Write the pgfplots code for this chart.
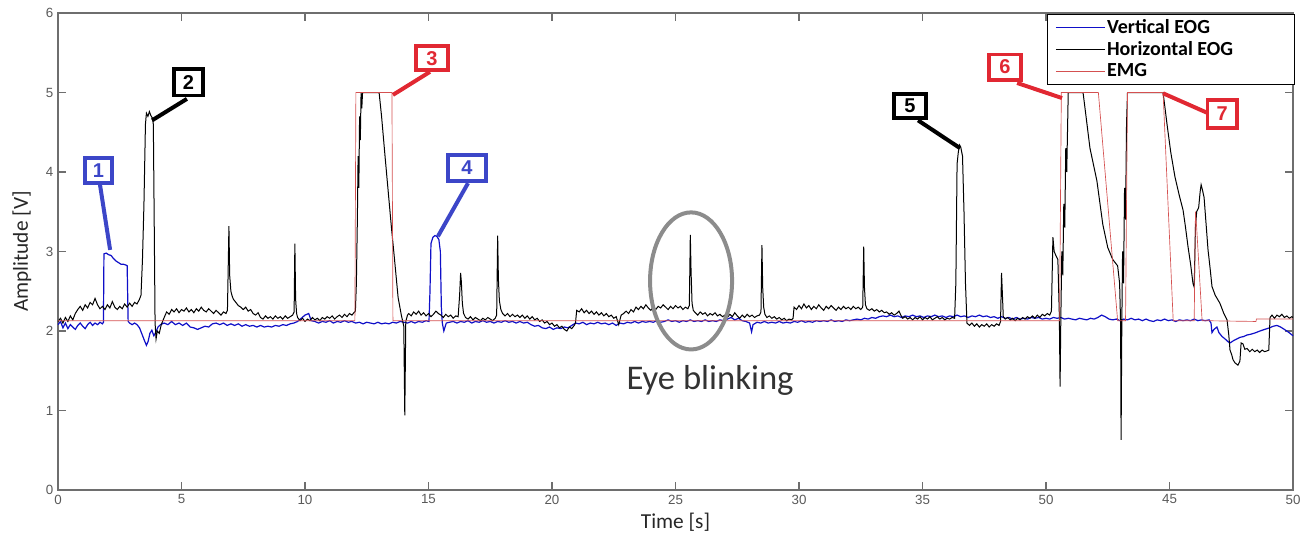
\documentclass[border=0pt]{standalone}
\usepackage{fontspec}
\setmainfont{Carlito}
\newfontfamily\ticksfont{Liberation Sans}
\usepackage{pgfplots}
\pgfplotsset{compat=1.18}
\definecolor{veog}{RGB}{15,15,200}
\definecolor{emg}{RGB}{212,80,80}
\definecolor{annblue}{RGB}{60,70,200}
\definecolor{annred}{RGB}{225,40,50}
\definecolor{axgray}{RGB}{110,110,110}
\definecolor{ellgray}{RGB}{140,140,140}

\begin{document}
\begin{tikzpicture}
\useasboundingbox (-43.5pt,-34.5pt) rectangle (939.75pt,367.5pt);
\begin{axis}[
 width=926.25pt, height=357.75pt, scale only axis,
 at={(0,0)}, anchor=south west,
 xmin=0, xmax=50, ymin=0, ymax=6,
 xtick={0,5,...,50},
 xticklabels={0,5,10,15,20,25,30,35,50,45,50},
 ytick={0,1,2,3,4,5,6},
 yticklabels={0,1,2,3,4,5,6},
 tick align=inside,
 major tick length=6pt,
 axis line style={axgray, line width=0.8pt},
 tick style={axgray, line width=0.8pt},
 tick label style={font=\ticksfont\fontsize{10}{12}\selectfont, text=black!65},
 xlabel={Time [s]}, ylabel={Amplitude [V]},
 label style={font=\fontsize{16}{19}\selectfont, text=black!85},
 xlabel style={at={(axis description cs:0.5,-0.067)}, anchor=center},
 ylabel style={at={(axis description cs:-0.0292,0.5)}, anchor=center},
 legend style={at={(axis description cs:1.0015,0.998)}, anchor=north east,
   draw=black, line width=0.6pt, fill=white,
   font=\bfseries\fontsize{15}{17}\selectfont,
   inner xsep=6pt, inner ysep=3pt, row sep=2.5pt,
   nodes={inner xsep=1pt, inner ysep=1pt}},
 legend cell align=left,
 legend image code/.code={\draw[#1] (0pt,0pt) -- (37pt,0pt);},
 clip=false,
]

% Vertical EOG
\addplot[veog, line width=0.9pt] coordinates {
(0,2.08)(0.1,2.12)(0.2,2.04)(0.3,2.1)(0.4,2.03)(0.5,2.08)(0.6,2.05)(0.7,2.02)(0.8,2.07)(0.9,2.1)(1.0,2.06)(1.1,2.03)(1.2,2.08)(1.3,2.11)(1.4,2.07)(1.5,2.1)(1.6,2.08)(1.7,2.11)(1.8,2.09)(1.84,2.11)
(1.86,2.97)(1.95,2.98)(2.05,2.96)(2.15,2.95)(2.25,2.91)(2.35,2.88)(2.45,2.86)(2.55,2.84)(2.65,2.84)(2.75,2.83)(2.8,2.82)(2.84,2.12)(2.9,2.1)(3.0,2.08)(3.1,2.1)(3.2,2.08)(3.3,2.04)(3.4,1.96)(3.5,1.88)(3.58,1.82)(3.65,1.87)(3.72,1.97)(3.8,2.01)(3.88,1.94)(3.95,1.98)(4.05,2.05)(4.15,2.08)(4.3,2.1)(4.45,2.08)(4.6,2.12)(4.75,2.08)(4.9,2.1)(5.05,2.07)(5.2,2.1)(5.35,2.05)(5.5,2.04)(5.65,2.02)(5.8,2.04)(5.95,2.06)(6.1,2.05)(6.25,2.09)(6.4,2.1)(6.55,2.08)(6.7,2.1)(6.85,2.07)(7.0,2.09)(7.15,2.07)(7.3,2.09)(7.45,2.06)(7.6,2.08)(7.75,2.06)(7.9,2.07)(8.05,2.05)(8.2,2.07)(8.35,2.05)(8.5,2.06)(8.65,2.05)(8.8,2.07)(8.95,2.06)(9.1,2.08)(9.25,2.07)(9.4,2.09)(9.55,2.1)(9.7,2.12)(9.85,2.16)(10.0,2.2)(10.15,2.22)(10.25,2.13)(10.4,2.12)(10.55,2.1)(10.7,2.12)(10.85,2.11)(11.0,2.13)(11.15,2.1)(11.3,2.12)(11.45,2.11)(11.6,2.13)(11.75,2.11)(11.9,2.12)(12.05,2.1)(12.2,2.11)(12.35,2.09)(12.5,2.11)(12.65,2.1)(12.8,2.09)(12.95,2.11)(13.1,2.09)(13.25,2.1)(13.4,2.09)(13.55,2.11)(13.7,2.1)(13.85,2.12)(14.0,2.11)(14.15,2.1)(14.3,2.12)(14.45,2.1)(14.6,2.12)(14.75,2.11)(14.9,2.13)(15.02,2.12)
(15.06,2.5)(15.1,3.1)(15.18,3.18)(15.26,3.2)(15.34,3.19)(15.42,3.15)(15.48,3.0)(15.52,2.3)(15.56,2.1)(15.62,2.0)(15.66,2.04)(15.72,2.1)(15.85,2.11)(16.0,2.12)(16.15,2.1)(16.3,2.12)(16.45,2.11)(16.6,2.13)(16.75,2.1)(16.9,2.12)(17.05,2.11)(17.2,2.13)(17.35,2.11)(17.5,2.12)(17.65,2.1)(17.8,2.12)(17.95,2.11)(18.1,2.13)(18.25,2.11)(18.4,2.12)(18.55,2.1)(18.7,2.12)(18.85,2.1)(19.0,2.11)(19.15,2.08)(19.3,2.06)(19.45,2.07)(19.6,2.04)(19.75,2.03)(19.9,2.05)(20.05,2.02)(20.2,2.04)(20.35,2.03)(20.5,2.05)(20.65,2.04)(20.8,2.07)(20.95,2.1)(21.1,2.09)(21.25,2.11)(21.4,2.08)(21.55,2.1)(21.7,2.09)(21.85,2.11)(22.0,2.09)(22.15,2.1)(22.3,2.08)(22.45,2.1)(22.6,2.07)(22.75,2.1)(22.9,2.09)(23.05,2.11)(23.2,2.1)(23.35,2.12)(23.5,2.1)(23.65,2.12)(23.8,2.11)(23.95,2.12)(24.1,2.11)(24.25,2.13)(24.4,2.11)(24.55,2.12)(24.7,2.14)(24.85,2.12)(25.0,2.13)(25.15,2.11)(25.3,2.13)(25.45,2.12)(25.6,2.14)(25.75,2.12)(25.9,2.13)(26.05,2.12)(26.2,2.14)(26.35,2.12)(26.5,2.13)(26.65,2.12)(26.8,2.14)(26.95,2.13)(27.1,2.15)(27.25,2.17)(27.4,2.14)(27.55,2.16)(27.7,2.13)(27.85,2.12)(28.0,2.1)(28.08,1.99)(28.14,2.08)(28.3,2.11)(28.45,2.1)(28.6,2.12)(28.75,2.1)(28.9,2.11)(29.05,2.1)(29.2,2.12)(29.35,2.1)(29.5,2.11)(29.65,2.1)(29.8,2.12)(29.95,2.11)(30.1,2.13)(30.25,2.11)(30.4,2.12)(30.55,2.11)(30.7,2.13)(30.85,2.12)(31.0,2.13)(31.15,2.12)(31.3,2.14)(31.45,2.12)(31.6,2.13)(31.75,2.12)(31.9,2.14)(32.05,2.13)(32.2,2.14)(32.35,2.15)(32.5,2.14)(32.65,2.16)(32.8,2.15)(32.95,2.17)(33.1,2.16)(33.25,2.18)(33.4,2.19)(33.55,2.18)(33.7,2.2)(33.85,2.18)(34.0,2.19)(34.15,2.17)(34.3,2.19)(34.45,2.18)(34.6,2.2)(34.75,2.18)(34.9,2.19)(35.05,2.17)(35.2,2.19)(35.35,2.18)(35.5,2.2)(35.65,2.18)(35.8,2.19)(35.95,2.17)(36.1,2.19)(36.25,2.18)(36.4,2.2)(36.55,2.18)(36.7,2.19)(36.85,2.17)(37.0,2.19)(37.15,2.18)(37.3,2.2)(37.45,2.18)(37.6,2.19)(37.75,2.17)(37.9,2.18)(38.05,2.16)(38.2,2.18)(38.35,2.16)(38.5,2.17)(38.65,2.15)(38.8,2.17)(38.95,2.15)(39.1,2.16)(39.25,2.15)(39.4,2.17)(39.55,2.16)(39.7,2.17)(39.85,2.15)(40.0,2.16)(40.15,2.15)(40.3,2.17)(40.45,2.16)(40.6,2.17)(40.75,2.15)(40.9,2.16)(41.05,2.15)(41.2,2.14)(41.35,2.16)(41.5,2.15)(41.65,2.14)(41.8,2.16)(41.95,2.15)(42.1,2.17)(42.25,2.2)(42.4,2.18)(42.55,2.15)(42.7,2.14)(42.85,2.15)(43.0,2.13)(43.15,2.15)(43.3,2.14)(43.45,2.16)(43.6,2.14)(43.75,2.15)(43.9,2.13)(44.05,2.15)(44.2,2.13)(44.35,2.12)(44.5,2.14)(44.65,2.13)(44.8,2.15)(44.95,2.13)(45.1,2.14)(45.25,2.12)(45.4,2.14)(45.55,2.13)(45.7,2.14)(45.85,2.13)(46.0,2.15)(46.15,2.13)(46.3,2.14)(46.45,2.13)(46.6,2.14)(46.68,2.1)(46.72,1.98)(46.8,2.02)(46.92,2.05)(47.0,1.98)(47.13,1.93)(47.25,1.9)(47.35,1.87)(47.45,1.85)(47.6,1.88)(47.73,1.9)(47.85,1.92)(48.0,1.93)(48.14,1.95)(48.3,1.96)(48.5,1.98)(48.66,2.0)(48.85,2.02)(49.05,2.04)(49.2,2.06)(49.35,2.07)(49.5,2.05)(49.6,2.03)(49.75,2.0)(49.88,1.97)(50,1.94)
};
\addlegendentry{Vertical EOG}

% Horizontal EOG
\addplot[black, line width=0.75pt] coordinates {
(0,2.12)(0.1,2.16)(0.2,2.1)(0.3,2.17)(0.4,2.12)(0.5,2.19)(0.6,2.14)(0.7,2.22)(0.8,2.27)(0.9,2.31)(1.0,2.26)(1.1,2.33)(1.2,2.29)(1.3,2.36)(1.4,2.33)(1.5,2.41)(1.6,2.33)(1.7,2.28)(1.8,2.31)(1.9,2.27)(2.0,2.33)(2.1,2.29)(2.2,2.37)(2.3,2.3)(2.4,2.27)(2.5,2.31)(2.6,2.28)(2.7,2.34)(2.8,2.3)(2.9,2.35)(3.0,2.31)(3.1,2.36)(3.2,2.34)(3.3,2.4)
(3.36,2.45)(3.42,2.9)(3.48,3.6)(3.54,4.6)(3.58,4.74)(3.64,4.7)(3.7,4.76)(3.76,4.71)(3.82,4.68)(3.86,4.6)(3.9,3.2)(3.93,2.1)(3.97,1.9)(4.02,2.0)(4.1,1.97)(4.18,2.08)(4.26,2.14)(4.34,2.2)
(4.4,2.24)(4.5,2.21)(4.6,2.27)(4.7,2.24)(4.8,2.28)(4.9,2.23)(5.0,2.27)(5.1,2.25)(5.2,2.29)(5.3,2.24)(5.4,2.27)(5.5,2.23)(5.6,2.28)(5.7,2.25)(5.8,2.3)(5.9,2.26)(6.0,2.24)(6.1,2.28)(6.2,2.25)(6.3,2.22)(6.4,2.26)(6.5,2.23)(6.6,2.2)(6.7,2.24)(6.8,2.22)(6.86,2.26)(6.9,2.95)(6.92,3.32)(6.95,2.7)(7.0,2.5)(7.05,2.44)(7.1,2.4)(7.2,2.36)(7.3,2.32)(7.4,2.3)(7.5,2.27)(7.6,2.3)(7.7,2.25)(7.8,2.27)(7.9,2.22)(8.0,2.2)(8.1,2.23)(8.2,2.17)(8.3,2.15)(8.4,2.19)(8.5,2.16)(8.6,2.18)(8.7,2.15)(8.8,2.19)(8.9,2.16)(9.0,2.18)(9.1,2.15)(9.2,2.19)(9.3,2.16)(9.4,2.18)(9.5,2.2)(9.56,2.24)(9.59,3.1)(9.62,2.4)(9.66,2.22)(9.7,2.17)(9.8,2.13)(9.9,2.16)(10.0,2.12)(10.1,2.15)(10.2,2.13)(10.3,2.17)(10.4,2.14)(10.5,2.16)(10.6,2.13)(10.7,2.17)(10.8,2.15)(10.9,2.18)(11.0,2.16)(11.1,2.19)(11.2,2.15)(11.3,2.18)(11.4,2.2)(11.5,2.17)(11.6,2.21)(11.7,2.18)(11.8,2.22)(11.9,2.2)(11.98,2.23)
(12.04,2.25)(12.08,2.6)(12.12,3.4)(12.15,4.2)(12.18,3.8)(12.21,4.7)(12.24,4.4)(12.27,5.0)(12.3,4.8)(12.33,5.0)(13.0,5.0)(13.1,4.7)(13.24,4.2)(13.37,3.75)(13.5,3.3)(13.64,2.85)(13.77,2.42)(13.9,2.2)(14.0,2.06)(14.04,0.94)(14.08,2.12)(14.15,2.2)
(14.2,2.22)(14.3,2.19)(14.4,2.24)(14.5,2.21)(14.6,2.25)(14.7,2.2)(14.8,2.23)(14.9,2.19)(15.0,2.22)(15.1,2.18)(15.2,2.21)(15.3,2.25)(15.4,2.22)(15.5,2.2)(15.6,2.17)(15.7,2.21)(15.8,2.18)(15.9,2.2)(16.0,2.16)(16.1,2.19)(16.2,2.18)(16.26,2.45)(16.3,2.73)(16.33,2.62)(16.37,2.35)(16.42,2.22)(16.5,2.17)(16.6,2.15)(16.7,2.18)(16.8,2.14)(16.9,2.17)(17.0,2.15)(17.1,2.13)(17.2,2.16)(17.3,2.14)(17.4,2.17)(17.5,2.15)(17.6,2.13)(17.7,2.16)(17.76,2.2)(17.8,3.2)(17.83,2.65)(17.87,2.38)(17.93,2.27)(18.0,2.22)(18.1,2.19)(18.2,2.22)(18.3,2.18)(18.4,2.21)(18.5,2.18)(18.6,2.2)(18.7,2.17)(18.8,2.2)(18.9,2.16)(19.0,2.19)(19.1,2.15)(19.2,2.18)(19.3,2.14)(19.4,2.16)(19.5,2.12)(19.6,2.14)(19.7,2.1)(19.8,2.12)(19.9,2.08)(20.0,2.1)(20.1,2.06)(20.2,2.08)(20.3,2.04)(20.4,2.06)(20.5,2.02)(20.6,2.0)(20.7,2.05)(20.8,2.03)(20.9,2.07)(20.95,2.1)(21.0,2.26)(21.1,2.24)(21.2,2.28)(21.3,2.23)(21.4,2.26)(21.5,2.22)(21.6,2.25)(21.7,2.21)(21.8,2.24)(21.9,2.2)(22.0,2.23)(22.1,2.19)(22.2,2.22)(22.3,2.18)(22.4,2.2)(22.5,2.16)(22.6,2.18)(22.7,2.08)(22.8,2.2)(22.9,2.22)(23.0,2.25)(23.1,2.22)(23.2,2.27)(23.3,2.24)
(23.4,2.3)(23.5,2.27)(23.6,2.31)(23.7,2.28)(23.8,2.33)(23.9,2.29)(24.0,2.26)(24.1,2.3)(24.2,2.27)(24.3,2.31)(24.4,2.29)(24.5,2.33)(24.6,2.3)(24.7,2.27)(24.8,2.31)(24.9,2.28)(25.0,2.32)(25.1,2.29)(25.2,2.31)(25.3,2.27)(25.4,2.3)(25.5,2.28)(25.56,2.32)(25.6,3.21)(25.63,2.75)(25.67,2.35)(25.72,2.26)(25.8,2.23)(25.9,2.2)(26.0,2.24)(26.1,2.21)(26.2,2.23)(26.3,2.19)(26.4,2.22)(26.5,2.2)(26.6,2.23)(26.7,2.19)(26.8,2.21)(26.9,2.18)(27.0,2.2)(27.1,2.17)(27.2,2.21)(27.3,2.18)(27.4,2.23)(27.5,2.19)(27.6,2.16)(27.7,2.2)(27.8,2.17)(27.9,2.21)(28.0,2.18)(28.1,2.2)(28.2,2.17)(28.3,2.19)(28.4,2.2)(28.46,2.24)(28.5,3.08)(28.53,2.55)(28.57,2.3)(28.62,2.21)(28.7,2.17)(28.8,2.19)(28.9,2.16)(29.0,2.18)(29.1,2.15)(29.2,2.17)(29.3,2.14)(29.4,2.16)(29.5,2.13)(29.6,2.15)(29.7,2.14)(29.76,2.16)
(29.8,2.3)(29.9,2.27)(30.0,2.32)(30.1,2.28)(30.2,2.34)(30.3,2.29)(30.4,2.32)(30.5,2.27)(30.6,2.31)(30.7,2.28)(30.8,2.33)(30.9,2.29)(31.0,2.26)(31.1,2.31)(31.2,2.28)(31.3,2.32)(31.4,2.29)(31.5,2.26)(31.6,2.3)(31.7,2.27)(31.8,2.31)(31.9,2.28)(32.0,2.3)(32.1,2.27)(32.2,2.31)(32.3,2.28)(32.4,2.3)(32.5,2.27)(32.58,2.3)(32.62,3.06)(32.65,2.55)(32.69,2.33)(32.75,2.28)(32.85,2.26)(32.95,2.28)(33.05,2.25)(33.15,2.27)(33.25,2.24)(33.35,2.26)(33.45,2.23)(33.55,2.24)(33.65,2.21)(33.75,2.23)(33.85,2.2)(33.95,2.22)(34.05,2.25)(34.12,2.2)(34.2,2.16)(34.3,2.18)(34.4,2.15)(34.5,2.17)(34.6,2.14)(34.7,2.17)(34.8,2.15)(34.9,2.18)(35.0,2.14)(35.1,2.17)(35.2,2.15)(35.3,2.18)(35.4,2.14)(35.5,2.16)(35.6,2.18)(35.7,2.15)(35.8,2.17)(35.9,2.14)(36.0,2.16)(36.1,2.15)(36.2,2.17)(36.3,2.16)
(36.35,2.6)(36.4,4.1)(36.45,4.25)(36.5,4.34)(36.55,4.31)(36.62,4.2)(36.68,3.5)(36.74,2.6)(36.8,2.1)(36.9,2.07)(37.0,2.1)(37.1,2.06)(37.2,2.09)(37.3,2.05)(37.4,2.08)(37.5,2.06)(37.6,2.09)(37.7,2.05)(37.8,2.08)(37.9,2.06)(38.0,2.09)(38.1,2.07)(38.16,2.12)(38.2,2.73)(38.23,2.5)(38.27,2.18)(38.35,2.15)(38.45,2.17)(38.55,2.14)(38.65,2.16)(38.75,2.13)(38.85,2.16)(38.95,2.14)(39.05,2.17)(39.15,2.15)(39.25,2.18)(39.35,2.16)(39.45,2.19)(39.55,2.16)(39.65,2.2)(39.75,2.17)(39.85,2.21)(39.95,2.19)(40.05,2.22)(40.15,2.2)(40.22,2.25)
(40.28,3.18)(40.33,3.0)(40.4,2.95)(40.48,2.9)(40.54,2.2)(40.57,1.3)(40.6,2.15)(40.64,3.0)(40.68,2.7)(40.72,3.6)(40.76,3.3)(40.8,4.3)(40.84,4.0)(40.9,5.0)(41.5,5.0)(41.78,4.3)(42.06,3.89)(42.3,3.34)(42.5,3.05)(42.7,2.9)(42.9,2.82)(42.98,2.6)(43.02,2.1)(43.04,0.63)(43.07,2.1)(43.1,3.0)(43.14,2.6)(43.18,3.8)(43.22,3.4)(43.26,4.6)(43.3,5.0)(44.74,5.0)
(44.9,4.6)(45.05,4.25)(45.22,3.94)(45.4,3.7)(45.55,3.52)(45.65,3.3)(45.75,3.06)(45.85,2.85)(45.95,2.6)(46.0,2.55)(46.05,3.3)(46.1,3.5)(46.18,3.55)(46.24,3.75)(46.28,3.84)(46.33,3.78)(46.4,3.68)(46.48,3.35)(46.56,3.02)(46.64,2.8)(46.72,2.56)(46.85,2.45)(47.04,2.35)(47.2,2.22)(47.33,2.14)(47.4,1.95)(47.45,1.76)(47.52,1.7)(47.57,1.64)(47.65,1.6)(47.77,1.57)(47.85,1.62)(47.9,1.85)(47.97,1.84)(48.05,1.77)(48.14,1.78)(48.25,1.74)(48.35,1.77)(48.45,1.74)(48.55,1.76)(48.65,1.73)(48.75,1.76)(48.85,1.74)(48.95,1.75)(49.02,1.76)(49.07,2.17)(49.15,2.2)(49.25,2.16)(49.35,2.2)(49.45,2.18)(49.55,2.21)(49.65,2.17)(49.75,2.19)(49.85,2.16)(49.95,2.18)(50,2.17)
};
\addlegendentry{Horizontal EOG\hspace*{39pt}}

% EMG
\addplot[emg, line width=0.5pt] coordinates {
(0,2.13)(12.02,2.13)(12.06,5)(13.52,5)(13.56,2.13)(40.55,2.13)(40.62,5)(42.12,5)(42.9,2.13)(43.22,2.13)(43.3,5)(44.74,5)(45.15,2.13)(46.0,2.13)(46.05,3.5)(46.1,3.3)(46.32,2.13)(48.5,2.12)(48.52,2.15)(50,2.15)
};
\addlegendentry{EMG}

% annotations
\tikzset{numbox/.style={draw=#1, text=#1, line width=2.8pt, fill=white, inner sep=0pt,
  font=\ticksfont\bfseries\fontsize{15}{15}\selectfont}}
\draw[annblue, line width=3pt] (axis cs:1.70,3.84) -- (axis cs:2.11,3.02);
\draw[black, line width=3pt] (axis cs:5.22,4.92) -- (axis cs:3.81,4.65);
\draw[annred, line width=3pt] (axis cs:15.06,5.26) -- (axis cs:13.56,4.97);
\draw[annblue, line width=3pt] (axis cs:16.6,3.86) -- (axis cs:15.38,3.19);
\draw[black, line width=3pt] (axis cs:34.82,4.65) -- (axis cs:36.52,4.30);
\draw[annred, line width=3pt] (axis cs:38.83,5.12) -- (axis cs:40.65,4.93);
\draw[annred, line width=3pt] (axis cs:46.56,4.74) -- (axis cs:44.74,4.99);
\node[numbox=annblue, minimum width=20pt, minimum height=19pt] at (axis cs:1.64,4.02) {1};
\node[numbox=black, minimum width=22pt, minimum height=20pt] at (axis cs:5.28,5.13) {2};
\node[numbox=annred, minimum width=24pt, minimum height=18pt] at (axis cs:15.14,5.43) {3};
\node[numbox=annblue, minimum width=28pt, minimum height=19pt] at (axis cs:16.56,4.05) {4};
\node[numbox=black, minimum width=24pt, minimum height=18pt] at (axis cs:34.49,4.83) {5};
\node[numbox=annred, minimum width=24pt, minimum height=19pt] at (axis cs:38.34,5.32) {6};
\node[numbox=annred, minimum width=22pt, minimum height=21pt] at (axis cs:47.13,4.73) {7};
\draw[ellgray, line width=3pt] (axis cs:25.63,2.63) ellipse [x radius=30.75pt, y radius=51.4pt];
\node[font=\fontsize{26}{30}\selectfont, text=black!80, anchor=base] at (axis cs:26.4,1.26) {Eye blinking};
\end{axis}
\end{tikzpicture}
\end{document}
